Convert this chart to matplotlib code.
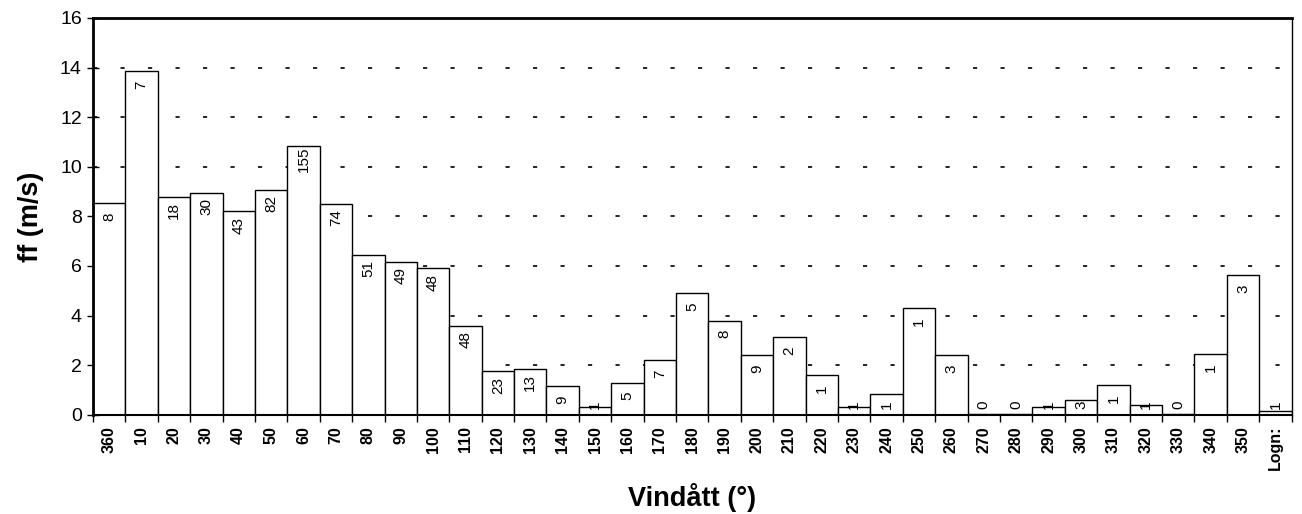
import numpy as np
import matplotlib.pyplot as plt

plt.rcParams['font.family'] = ['Liberation Sans', 'DejaVu Sans']

# Vindriktning (grader) och medelvindhastighet per sektor
directions = ['360', '10', '20', '30', '40', '50', '60', '70', '80', '90',
              '100', '110', '120', '130', '140', '150', '160', '170', '180',
              '190', '200', '210', '220', '230', '240', '250', '260', '270',
              '280', '290', '300', '310', '320', '330', '340', '350', 'Logn:']
ff = [8.55, 13.85, 8.8, 8.95, 8.2, 9.05, 10.85, 8.5, 6.45, 6.15,
      5.9, 3.6, 1.75, 1.85, 1.15, 0.3, 1.3, 2.2, 4.9,
      3.8, 2.4, 3.15, 1.6, 0.3, 0.85, 4.3, 2.4, 0.05,
      0.05, 0.3, 0.6, 1.2, 0.4, 0.05, 2.45, 5.65, 0.15]
# antal observationer per sektor
counts = [8, 7, 18, 30, 43, 82, 155, 74, 51, 49,
          48, 48, 23, 13, 9, 1, 5, 7, 5,
          8, 9, 2, 1, 1, 1, 1, 3, 0,
          0, 1, 3, 1, 1, 0, 1, 3, 1]

fig = plt.figure(figsize=(13.02, 5.14), dpi=100)
ax = fig.add_axes([0.0714, 0.193, 0.9206, 0.772])

x = np.arange(len(directions))
ax.bar(x, ff, width=1.0, color='white', edgecolor='black', linewidth=1.0, zorder=2)

# prickade rutnätslinjer
for yv in range(2, 16, 2):
    ax.axhline(yv, color='black', linewidth=1.2, linestyle=(0, (2.5, 14)), zorder=1)

# antal i staplarna
for xi, h, n in zip(x, ff, counts):
    yc = max(h - 0.55, 0.4)
    ax.text(xi, yc, str(n), rotation=90, ha='center', va='center',
            fontsize=11, zorder=3)

ax.set_xlim(-0.5, len(directions) - 0.5)
ax.set_ylim(0, 16)
ax.set_yticks(np.arange(0, 17, 2))
ax.tick_params(axis='y', labelsize=14, direction='inout', length=8, width=1, pad=4)

ax.set_xticks(x)
ax.set_xticklabels(directions, rotation=90, fontsize=11.5, fontweight='bold')
ax.tick_params(axis='x', which='major', length=0, pad=8)
ax.set_xticks(np.arange(-0.5, len(directions), 1), minor=True)
ax.tick_params(axis='x', which='minor', length=5, width=1, direction='out')

ax.spines['top'].set_linewidth(2)
ax.spines['left'].set_linewidth(2)
ax.spines['right'].set_linewidth(1)
ax.spines['bottom'].set_linewidth(1.5)

ax.set_ylabel('ff (m/s)', fontsize=19.5, fontweight='bold')
ax.yaxis.set_label_coords(-0.041, 0.5)
ax.set_xlabel('Vindått (°)', fontsize=19.5, fontweight='bold')
ax.xaxis.set_label_coords(0.5, -0.172)

fig.savefig('out.png', dpi=100)
